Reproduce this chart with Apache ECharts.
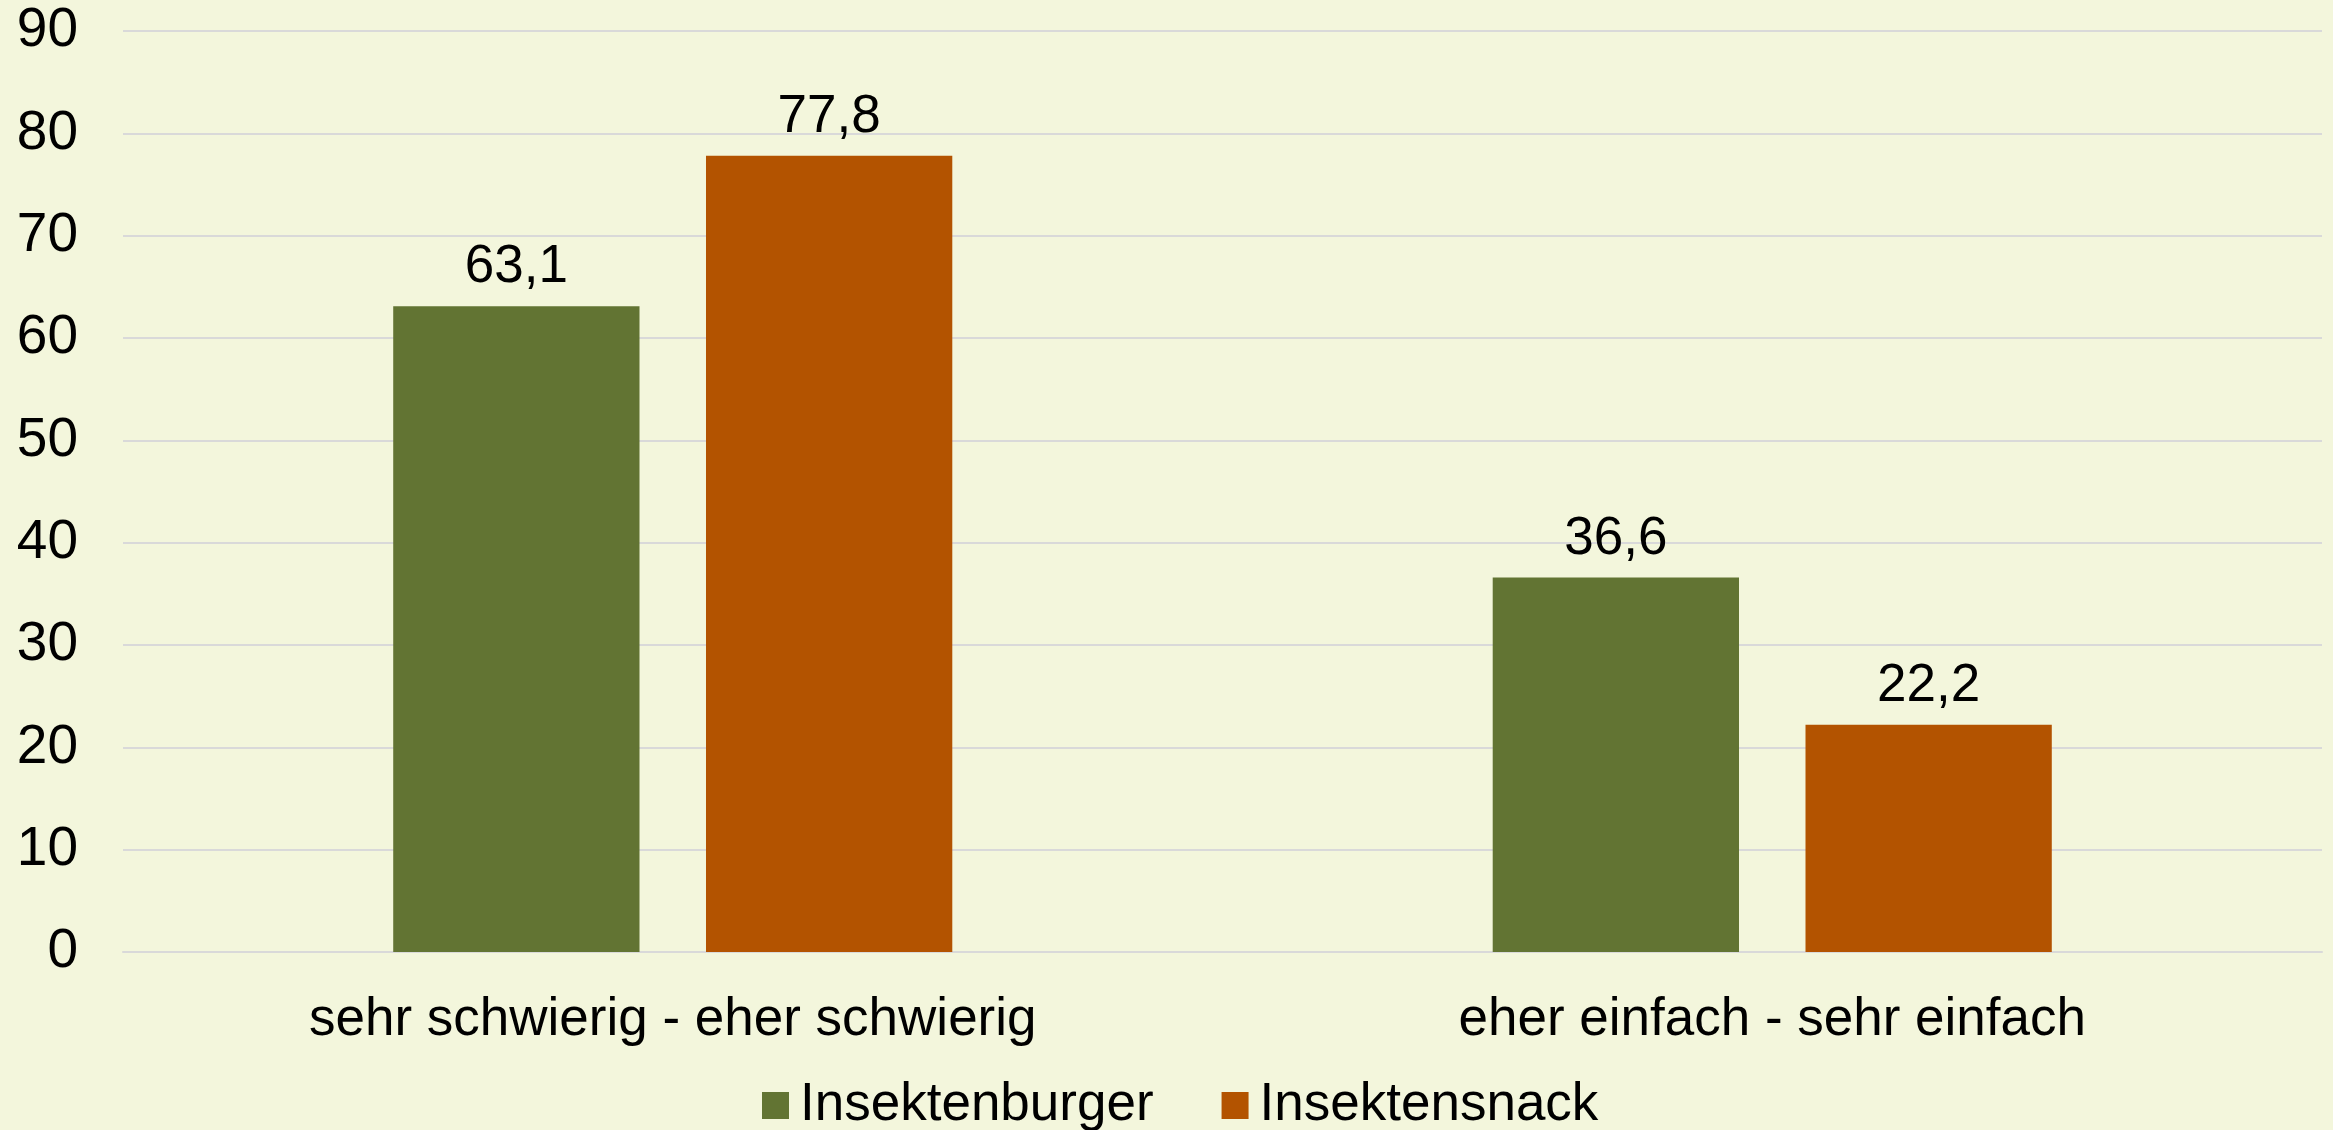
<!DOCTYPE html>
<html>
<head>
<meta charset="utf-8">
<script src="https://cdn.jsdelivr.net/npm/echarts@6/dist/echarts.min.js"></script>
<style>
  html, body { margin: 0; padding: 0; background: #f3f6dc; }
  #chart { width: 2333px; height: 1130px; }
</style>
</head>
<body>
<div id="chart"></div>
<script>
const categories = ['sehr schwierig - eher schwierig', 'eher einfach - sehr einfach']
const burger = [63.1, 36.6]
const snack = [77.8, 22.2]
const seriesNames = ['Insektenburger', 'Insektensnack']

const font = '"Liberation Sans", Arial, sans-serif'
const fmt = (v) => String(v).replace('.', ',')

const chart = echarts.init(document.getElementById('chart'))

const barLabel = {
  show: true,
  position: 'top',
  distance: 12,
  fontFamily: font,
  fontSize: 53,
  color: '#000',
  formatter: (p) => fmt(p.value),
}

chart.setOption({
  backgroundColor: '#f3f6dc',
  animation: false,
  textStyle: { fontFamily: font },
  grid: { left: 123, right: 11, top: 31, bottom: 178 },
  legend: {
    data: seriesNames,
    left: 757,
    top: 1074,
    icon: 'rect',
    itemWidth: 27,
    itemHeight: 27,
    itemGap: 68,
    textStyle: {
      fontFamily: font,
      fontSize: 53,
      color: '#000',
      lineHeight: 52,
      padding: [0, 0, 0, 6],
    },
  },
  xAxis: {
    type: 'category',
    data: categories,
    axisLine: { show: true, lineStyle: { color: '#d9d9d9', width: 2 } },
    axisTick: { show: false },
    axisLabel: { fontFamily: font, fontSize: 53, color: '#000', margin: 42 },
  },
  yAxis: {
    type: 'value',
    min: 0,
    max: 90,
    interval: 10,
    axisLine: { show: false },
    axisTick: { show: false },
    axisLabel: { fontFamily: font, fontSize: 55, color: '#000', margin: 45 },
    splitLine: { lineStyle: { color: '#d9d9d9', width: 2 } },
  },
  series: [
    {
      name: seriesNames[0],
      type: 'bar',
      data: burger,
      barWidth: '22.4%',
      barGap: '27%',
      itemStyle: { color: '#627433' },
      label: barLabel,
    },
    {
      name: seriesNames[1],
      type: 'bar',
      data: snack,
      barWidth: '22.4%',
      itemStyle: { color: '#b35300' },
      label: barLabel,
    },
  ],
})
</script>
</body>
</html>
